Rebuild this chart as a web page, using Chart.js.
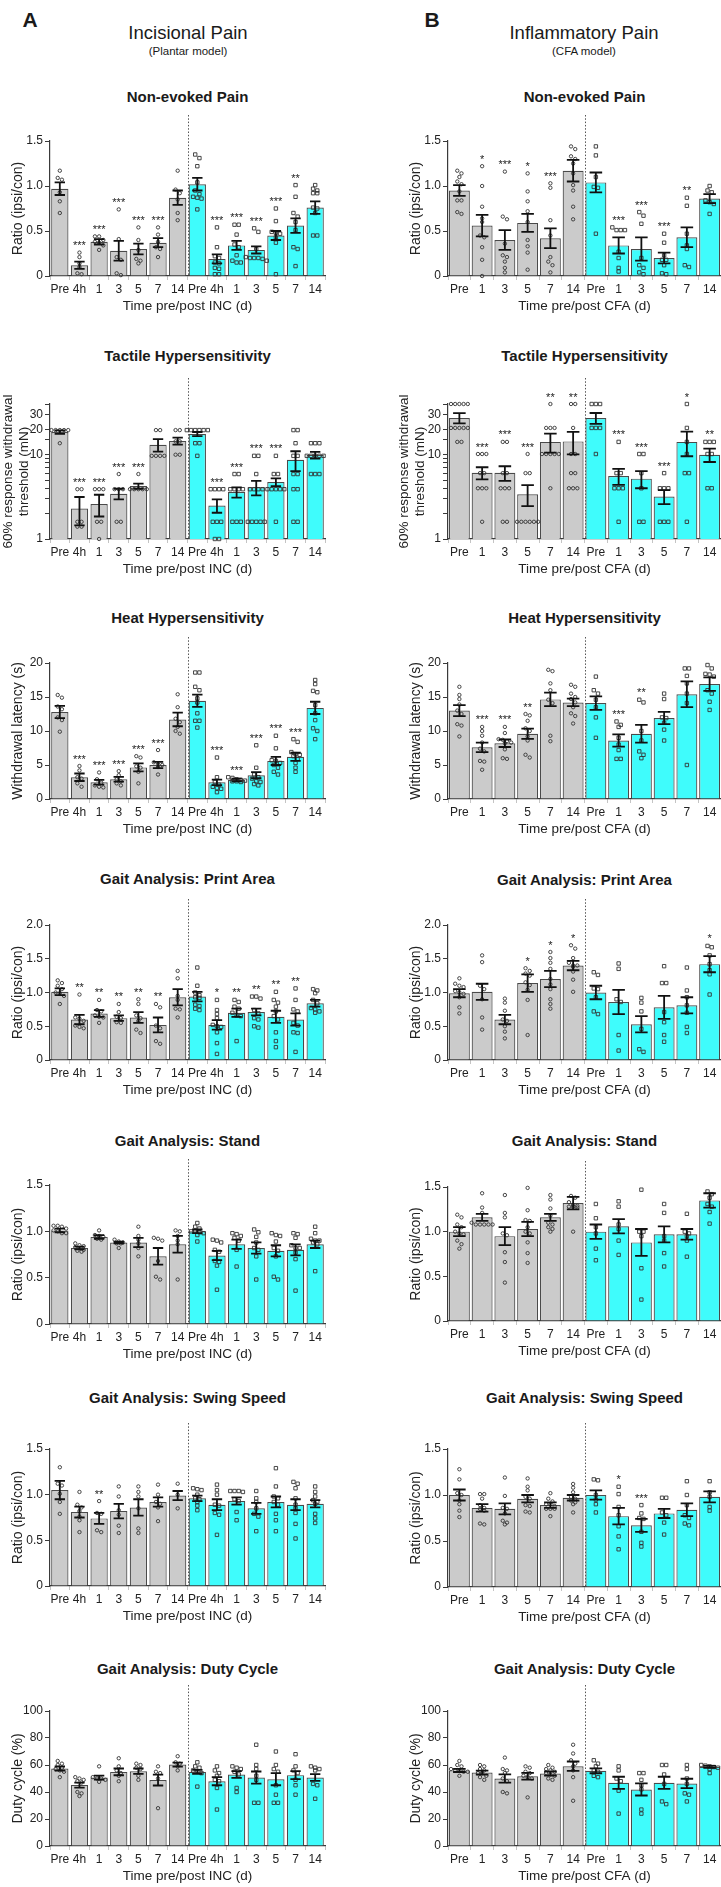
<!DOCTYPE html>
<html>
<head>
<meta charset="utf-8">
<script src="https://cdn.jsdelivr.net/npm/chart.js@4.4.1/dist/chart.umd.min.js"></script>
<style>
body { margin: 0; background: #fff; width: 721px; height: 1887px; position: relative; overflow: hidden; font-family: "Liberation Sans", Arial, sans-serif; color: #1a1a1a; }
.t { position: absolute; transform: translate(-50%, -50%); white-space: nowrap; }
.pt { font-size: 15px; font-weight: bold; }
canvas { position: absolute; }
</style>
</head>
<body>
<div class="t" style="left:30px;top:20px;font-size:21px;font-weight:bold">A</div>
<div class="t" style="left:188px;top:33px;font-size:18.5px">Incisional Pain</div>
<div class="t" style="left:188px;top:51px;font-size:11.5px">(Plantar model)</div>
<div class="t" style="left:432px;top:20px;font-size:21px;font-weight:bold">B</div>
<div class="t" style="left:584px;top:33px;font-size:18.5px">Inflammatory Pain</div>
<div class="t" style="left:584px;top:51px;font-size:11.5px">(CFA model)</div>
<script>
// categories
const incLabels = ["Pre", "4h", "1", "3", "5", "7", "14", "Pre", "4h", "1", "3", "5", "7", "14"];
const cfaLabels = ["Pre", "1", "3", "5", "7", "14", "Pre", "1", "3", "5", "7", "14"];

// y tick values
const ratioTicks = [0, 0.5, 1.0, 1.5];
const areaTicks = [0, 0.5, 1.0, 1.5, 2.0];
const heatTicks = [0, 5, 10, 15, 20];
const dutyTicks = [0, 20, 40, 60, 80, 100];
const tactTicks = [1, 10, 20, 30];

// Non-evoked pain
const incPainMean = [0.97, 0.12, 0.38, 0.28, 0.30, 0.37, 0.87, 1.02, 0.19, 0.34, 0.29, 0.45, 0.56, 0.76];
const incPainSem = [0.07, 0.04, 0.03, 0.11, 0.06, 0.05, 0.08, 0.07, 0.05, 0.05, 0.04, 0.05, 0.08, 0.07];
const incPainPts = [
	[1.17, 1.09, 1.07, 0.93, 0.83, 0.70],
	[0.26, 0.21, 0.14, 0.10, 0.03, 0.02],
	[0.44, 0.44, 0.40, 0.38, 0.37, 0.34, 0.29],
	[0.74, 0.41, 0.21, 0.18, 0.03, 0.01],
	[0.54, 0.40, 0.29, 0.19, 0.17, 0.14],
	[0.54, 0.46, 0.38, 0.32, 0.21, 0.30],
	[1.17, 0.96, 0.92, 0.85, 0.70, 0.62],
	[1.35, 1.31, 1.22, 1.04, 0.95, 0.91, 0.88, 0.87, 0.86, 0.74],
	[0.54, 0.32, 0.22, 0.20, 0.15, 0.14, 0.09, 0.08, 0.02, 0.02],
	[0.57, 0.57, 0.46, 0.35, 0.32, 0.23, 0.17, 0.15, 0.15],
	[0.53, 0.49, 0.30, 0.21, 0.20, 0.20, 0.20, 0.19, 0.17],
	[0.75, 0.61, 0.49, 0.48, 0.47, 0.43, 0.37, 0.02],
	[1.01, 0.88, 0.70, 0.66, 0.60, 0.51, 0.32, 0.30, 0.11],
	[1.01, 0.97, 0.95, 0.92, 0.92, 0.76, 0.75, 0.70, 0.45, 0.45]
];
const incPainStars = ["", "***", "***", "***", "***", "***", "", "", "***", "***", "***", "***", "**", ""];

const cfaPainMean = [0.95, 0.56, 0.40, 0.59, 0.42, 1.17, 1.04, 0.34, 0.30, 0.20, 0.43, 0.86];
const cfaPainSem = [0.06, 0.12, 0.11, 0.10, 0.11, 0.12, 0.11, 0.09, 0.13, 0.06, 0.11, 0.05];
const cfaPainPts = [
	[1.17, 1.14, 1.10, 1.05, 1.02, 0.94, 0.84, 0.84, 0.71, 0.69],
	[1.22, 1.00, 0.77, 0.64, 0.60, 0.45, 0.43, 0.32, 0.18, 0.0],
	[1.16, 0.66, 0.63, 0.36, 0.23, 0.21, 0.16, 0.09, 0.04],
	[1.14, 0.94, 0.83, 0.72, 0.60, 0.40, 0.33, 0.26, 0.07],
	[1.03, 0.98, 0.62, 0.45, 0.21, 0.16, 0.12, 0.04],
	[1.44, 1.41, 1.33, 1.30, 1.25, 1.14, 1.01, 0.95, 0.77, 0.63],
	[1.44, 1.34, 1.10, 0.99, 0.98, 0.47],
	[0.54, 0.51, 0.51, 0.51, 0.27, 0.20, 0.09, 0.05],
	[0.71, 0.67, 0.58, 0.20, 0.12, 0.09, 0.04, 0.02],
	[0.47, 0.37, 0.23, 0.18, 0.18, 0.12, 0.03, 0.02],
	[0.87, 0.78, 0.47, 0.34, 0.30, 0.12, 0.10],
	[1.00, 0.95, 0.93, 0.84, 0.82, 0.80, 0.69]
];
const cfaPainStars = ["", "*", "***", "*", "***", "", "", "***", "***", "***", "**", ""];

// Tactile hypersensitivity (mN, log axis)
const incTactMean = [18.6, 2.3, 2.6, 3.45, 4.25, 13.1, 14.6, 17.6, 2.5, 3.6, 4.1, 4.75, 8.7, 9.9];
const incTactSem = [0.9, 0.85, 0.75, 0.5, 0.3, 2.2, 1.4, 1.0, 0.45, 0.5, 0.8, 0.5, 2.3, 0.9];
const incTactPts = [
	[19.6, 19.6, 19.6, 19.6, 19.6, 13.7],
	[3.9, 3.9, 1.6, 1.6, 1.4, 1.4],
	[3.9, 3.9, 3.9, 1.6, 1.6, 1.0],
	[5.9, 3.9, 3.9, 3.9, 1.6, 1.6],
	[5.9, 3.9, 3.9, 3.9, 3.9, 3.9],
	[19.6, 19.6, 9.7, 9.7, 9.7, 9.7],
	[19.6, 19.6, 14.4, 14.4, 10, 10],
	[19.6, 19.6, 19.6, 19.6, 19.6, 19.6, 13.7, 13.7, 9.7],
	[3.9, 3.9, 3.9, 3.9, 1.6, 1.6, 1.6, 1.0, 1.0],
	[5.9, 5.9, 3.9, 3.9, 3.9, 3.9, 1.6, 1.6, 1.6],
	[9.7, 9.7, 5.9, 3.9, 3.9, 3.9, 3.9, 1.6, 1.6, 1.6, 1.6, 1.6],
	[9.7, 5.9, 5.9, 3.9, 3.9, 3.9, 3.9, 3.9, 1.6],
	[19.6, 19.6, 13.7, 9.7, 9.7, 5.9, 5.9, 3.9, 3.9, 1.6, 1.6],
	[13.7, 13.7, 13.7, 9.7, 9.7, 9.7, 9.7, 9.7, 5.9, 5.9, 5.9]
];
const incTactStars = ["", "***", "***", "***", "***", "", "", "", "***", "***", "***", "***", "", ""];

const cfaTactMean = [27.3, 6.1, 6.1, 3.4, 14.2, 14.4, 27.3, 5.6, 5.2, 3.2, 14.2, 10.0];
const cfaTactSem = [3.8, 1.0, 1.2, 0.95, 3.6, 4.3, 4.0, 1.2, 1.2, 0.6, 4.6, 1.8];
const cfaTactPts = [
	[40, 40, 40, 40, 40, 20.8, 20.8, 20.8, 20.8, 20.8, 14.2, 14.2],
	[10.2, 10.2, 10.2, 6.05, 6.05, 4, 4, 4, 1.6],
	[14.2, 14.2, 6.05, 6.05, 4, 4, 4, 1.6, 1.6],
	[10.2, 6.05, 6.05, 1.6, 1.6, 1.6, 1.6, 1.6, 1.6],
	[40, 20.8, 20.8, 20.8, 10.2, 10.2, 10.2, 10.2, 10.2, 4],
	[40, 40, 20.8, 10.2, 10.2, 6.05, 6.05, 4, 4, 4],
	[40, 40, 40, 20.8, 20.8, 20.8, 10.2],
	[14.2, 6.05, 6.05, 4, 4, 4, 1.6],
	[10.2, 10.2, 6.05, 4, 1.6, 1.6],
	[6.05, 4, 4, 4, 1.6, 1.6, 1.6],
	[40, 20.8, 14.2, 10.2, 6.05, 6.05, 1.6],
	[14.2, 14.2, 14.2, 10.2, 10.2, 4, 4]
];
const cfaTactStars = ["", "***", "***", "***", "**", "**", "", "***", "***", "***", "*", "**"];

// Heat hypersensitivity (s)
const incHeatMean = [12.8, 3.2, 2.45, 2.9, 4.65, 5.0, 11.7, 14.45, 2.45, 2.8, 3.5, 5.6, 6.2, 13.4];
const incHeatSem = [0.9, 0.55, 0.35, 0.35, 0.6, 0.45, 1.0, 0.9, 0.4, 0.2, 0.45, 0.6, 0.6, 0.9];
const incHeatPts = [
	[15.3, 14.9, 13.6, 13.2, 12.0, 11.6, 9.9],
	[4.85, 4.2, 3.2, 3.0, 2.3, 1.8],
	[3.9, 2.9, 2.4, 2.0, 1.8, 1.7],
	[4.1, 3.5, 2.9, 2.6, 2.3, 2.0],
	[6.3, 6.1, 4.8, 4.6, 4.0, 2.3],
	[7.2, 5.4, 5.1, 5.0, 4.7, 3.6],
	[15.4, 13.5, 11.8, 11.3, 10.6, 10.0, 9.6],
	[18.6, 18.6, 16.5, 16.0, 14.8, 14.2, 12.6, 11.5, 11.5, 10.5],
	[6.1, 3.2, 2.5, 2.1, 1.8, 1.6, 1.5, 1.0],
	[3.2, 3.1, 2.9, 2.8, 2.7, 2.6, 2.6, 2.5],
	[7.9, 4.6, 3.6, 3.2, 3.0, 2.6, 2.5, 2.2, 2.0],
	[9.3, 7.45, 5.7, 5.6, 5.3, 5.0, 4.6, 4.0, 3.6],
	[8.8, 8.4, 6.9, 6.6, 6.5, 6.3, 5.9, 5.3, 4.6, 4.0],
	[17.5, 16.9, 15.9, 15.7, 13.8, 12.6, 11.6, 10.4, 10.0, 8.8]
];
const incHeatStars = ["", "***", "***", "***", "***", "***", "", "", "***", "***", "***", "***", "***", ""];

const cfaHeatMean = [13.0, 7.6, 8.2, 9.6, 14.65, 14.2, 14.1, 8.6, 9.6, 11.9, 15.4, 16.9];
const cfaHeatSem = [0.8, 0.7, 0.55, 0.75, 1.0, 0.55, 1.0, 0.9, 1.3, 0.9, 1.9, 1.0];
const cfaHeatPts = [
	[16.5, 15.3, 14.7, 13.9, 13.0, 12.5, 11.0, 10.8, 9.2],
	[10.6, 10.0, 9.3, 8.3, 7.4, 7.0, 5.6, 5.5, 4.3],
	[10.6, 9.7, 8.8, 8.7, 8.5, 8.3, 8.2, 7.3, 6.0, 5.9],
	[12.5, 12.3, 11.5, 10.4, 10.0, 9.2, 8.6, 6.5, 6.1],
	[19.0, 18.8, 17.0, 16.0, 14.6, 14.1, 9.3, 8.5],
	[16.8, 16.5, 15.5, 15.0, 14.7, 14.2, 13.5, 12.6, 12.2, 11.1],
	[18.0, 16.0, 15.5, 14.6, 13.5, 12.0, 9.0],
	[11.4, 10.9, 10.6, 9.0, 8.0, 7.2, 5.9, 5.9],
	[14.6, 14.2, 10.0, 8.6, 7.0, 6.5, 6.0],
	[15.5, 14.7, 12.0, 11.9, 11.2, 10.2, 8.6],
	[19.2, 19.2, 18.1, 17.0, 15.5, 14.1, 5.0],
	[19.7, 19.2, 18.4, 18.3, 18.0, 16.0, 15.5, 14.3, 13.1]
];
const cfaHeatStars = ["", "***", "***", "**", "", "", "", "***", "**", "", "", ""];

// Gait: print area
const incAreaMean = [1.01, 0.60, 0.69, 0.62, 0.63, 0.52, 0.93, 0.94, 0.52, 0.70, 0.71, 0.64, 0.60, 0.84];
const incAreaSem = [0.05, 0.07, 0.05, 0.04, 0.08, 0.11, 0.12, 0.07, 0.07, 0.06, 0.05, 0.09, 0.09, 0.05];
const incAreaPts = [
	[1.18, 1.14, 1.10, 1.05, 1.0, 0.99, 0.95, 0.83],
	[0.97, 0.63, 0.61, 0.58, 0.51, 0.49, 0.47],
	[0.89, 0.74, 0.72, 0.66, 0.64, 0.63, 0.55],
	[0.83, 0.71, 0.64, 0.62, 0.56, 0.55],
	[0.90, 0.83, 0.66, 0.62, 0.58, 0.45, 0.40],
	[0.83, 0.78, 0.51, 0.47, 0.28, 0.24],
	[1.32, 1.21, 0.95, 0.89, 0.76, 0.75, 0.63],
	[1.37, 1.10, 1.0, 0.96, 0.93, 0.92, 0.82, 0.80, 0.76, 0.74],
	[0.89, 0.74, 0.68, 0.62, 0.52, 0.50, 0.49, 0.41, 0.25, 0.09],
	[0.89, 0.86, 0.79, 0.76, 0.70, 0.66, 0.65, 0.28],
	[0.94, 0.94, 0.91, 0.74, 0.69, 0.62, 0.60, 0.50, 0.48],
	[1.01, 0.89, 0.85, 0.79, 0.72, 0.65, 0.60, 0.41, 0.28, 0.19],
	[1.06, 0.89, 0.75, 0.72, 0.55, 0.51, 0.41, 0.40, 0.12],
	[1.05, 1.03, 0.99, 0.89, 0.84, 0.77, 0.75, 0.72, 0.70]
];
const incAreaStars = ["", "**", "**", "**", "**", "**", "", "", "*", "**", "**", "**", "**", ""];

const cfaAreaMean = [0.99, 1.01, 0.60, 1.14, 1.20, 1.40, 1.0, 0.86, 0.53, 0.78, 0.81, 1.42];
const cfaAreaSem = [0.06, 0.12, 0.07, 0.13, 0.12, 0.07, 0.1, 0.18, 0.12, 0.17, 0.12, 0.12];
const cfaAreaPts = [
	[1.21, 1.13, 1.10, 1.08, 1.02, 1.0, 0.98, 0.93, 0.78, 0.69],
	[1.55, 1.45, 1.10, 1.05, 0.90, 0.63, 0.45],
	[0.91, 0.85, 0.73, 0.60, 0.58, 0.50, 0.42, 0.32],
	[1.36, 1.32, 1.28, 1.25, 1.15, 1.11, 1.04, 0.89, 0.37],
	[1.60, 1.51, 1.44, 1.35, 1.20, 1.12, 1.05, 0.90, 0.83, 0.76],
	[1.70, 1.65, 1.51, 1.44, 1.40, 1.40, 1.38, 1.31, 1.19, 1.01],
	[1.30, 1.26, 1.06, 1.05, 0.93, 0.72, 0.68],
	[1.43, 1.35, 0.90, 0.86, 0.37, 0.14],
	[0.92, 0.85, 0.72, 0.46, 0.16, 0.12],
	[1.39, 1.14, 1.14, 0.71, 0.56, 0.37, 0.27],
	[1.37, 1.03, 0.93, 0.81, 0.70, 0.49, 0.40],
	[1.69, 1.67, 1.55, 1.42, 1.33, 1.27, 0.97]
];
const cfaAreaStars = ["", "", "", "*", "*", "*", "", "", "", "", "", "*"];

// Gait: stand
const incStandMean = [1.01, 0.82, 0.94, 0.88, 0.88, 0.73, 0.86, 1.0, 0.74, 0.86, 0.82, 0.79, 0.80, 0.86];
const incStandSem = [0.02, 0.015, 0.02, 0.01, 0.05, 0.09, 0.09, 0.02, 0.05, 0.05, 0.06, 0.06, 0.06, 0.04];
const incStandPts = [
	[1.06, 1.06, 1.05, 1.03, 1.01, 1.0, 0.98, 0.98],
	[0.87, 0.85, 0.84, 0.83, 0.82, 0.80, 0.79, 0.78],
	[1.01, 0.96, 0.95, 0.94, 0.92, 0.91],
	[0.91, 0.89, 0.88, 0.87, 0.87, 0.82],
	[1.05, 0.95, 0.91, 0.87, 0.82, 0.73],
	[0.93, 0.92, 0.90, 0.68, 0.51, 0.48],
	[1.01, 1.0, 0.95, 0.90, 0.86, 0.48],
	[1.09, 1.05, 1.03, 1.0, 1.0, 0.99, 0.98, 0.96, 0.89],
	[0.91, 0.90, 0.88, 0.80, 0.78, 0.68, 0.67, 0.63, 0.37],
	[0.98, 0.97, 0.95, 0.93, 0.90, 0.80, 0.62],
	[1.02, 0.99, 0.94, 0.88, 0.82, 0.80, 0.73, 0.48],
	[0.98, 0.96, 0.95, 0.89, 0.82, 0.79, 0.73, 0.51, 0.48],
	[0.98, 0.97, 0.93, 0.85, 0.82, 0.82, 0.77, 0.70, 0.36],
	[1.05, 0.98, 0.92, 0.90, 0.90, 0.88, 0.86, 0.57]
];
const incStandStars = [];

const cfaStandMean = [1.0, 1.16, 0.95, 1.03, 1.16, 1.32, 1.0, 1.06, 0.88, 0.97, 0.97, 1.35];
const cfaStandSem = [0.05, 0.04, 0.10, 0.08, 0.04, 0.07, 0.08, 0.08, 0.15, 0.09, 0.06, 0.08];
const cfaStandPts = [
	[1.19, 1.16, 1.08, 1.05, 1.0, 0.98, 0.97, 0.90, 0.86, 0.81],
	[1.43, 1.27, 1.21, 1.10, 1.08, 1.08, 1.08, 1.08, 1.08],
	[1.41, 1.21, 1.16, 0.98, 0.96, 0.77, 0.66, 0.43],
	[1.49, 1.24, 1.13, 1.12, 1.05, 1.0, 0.98, 0.88, 0.76, 0.65],
	[1.41, 1.36, 1.26, 1.18, 1.10, 1.08, 1.05, 1.03, 1.0],
	[1.40, 1.38, 1.33, 1.30, 1.29, 1.28, 1.28, 1.27, 1.0],
	[1.31, 1.15, 1.05, 0.98, 0.81, 0.68],
	[1.34, 1.28, 1.08, 1.03, 0.90, 0.74],
	[1.47, 1.0, 1.0, 0.95, 0.59, 0.24],
	[1.31, 1.21, 0.95, 0.90, 0.76, 0.61],
	[1.20, 1.0, 0.98, 0.95, 0.90, 0.72],
	[1.45, 1.42, 1.38, 1.31, 1.28, 1.22, 1.09]
];
const cfaStandStars = [];

// Gait: swing speed
const incSwingMean = [1.05, 0.81, 0.74, 0.82, 0.86, 0.92, 0.99, 0.96, 0.89, 0.93, 0.85, 0.92, 0.89, 0.90];
const incSwingSem = [0.1, 0.06, 0.06, 0.08, 0.09, 0.05, 0.05, 0.03, 0.06, 0.04, 0.06, 0.06, 0.06, 0.04];
const incSwingPts = [
	[1.30, 1.12, 1.10, 1.01, 0.92, 0.79],
	[1.03, 0.89, 0.86, 0.82, 0.76, 0.72, 0.59],
	[0.93, 0.80, 0.79, 0.61, 0.59],
	[1.09, 0.98, 0.83, 0.78, 0.66, 0.58],
	[1.09, 1.03, 0.98, 0.85, 0.63, 0.58],
	[1.11, 1.0, 0.92, 0.90, 0.86, 0.71],
	[1.12, 1.0, 0.85],
	[1.07, 1.06, 1.05, 1.0, 0.96, 0.95, 0.92, 0.88, 0.83],
	[1.11, 1.05, 1.0, 0.89, 0.88, 0.80, 0.78, 0.56],
	[1.04, 1.04, 1.04, 1.03, 0.95, 0.93, 0.81, 0.72],
	[1.04, 0.96, 0.92, 0.85, 0.79, 0.76, 0.60],
	[1.29, 1.09, 0.98, 0.96, 0.92, 0.89, 0.79, 0.72, 0.60],
	[1.14, 1.12, 1.07, 0.96, 0.89, 0.85, 0.80, 0.68, 0.52],
	[1.09, 1.03, 0.98, 0.94, 0.92, 0.90, 0.79, 0.74, 0.69]
];
const incSwingStars = ["", "", "**"];

const cfaSwingMean = [1.0, 0.86, 0.85, 0.96, 0.89, 0.97, 1.0, 0.77, 0.67, 0.80, 0.84, 0.98];
const cfaSwingSem = [0.06, 0.04, 0.06, 0.04, 0.03, 0.03, 0.05, 0.09, 0.07, 0.05, 0.07, 0.06];
const cfaSwingPts = [
	[1.28, 1.17, 1.02, 1.0, 0.94, 0.90, 0.83, 0.76],
	[1.01, 1.01, 0.96, 0.89, 0.86, 0.85, 0.83, 0.69, 0.68],
	[1.19, 0.99, 0.86, 0.85, 0.80, 0.72, 0.70, 0.68],
	[1.18, 1.09, 1.05, 0.98, 0.96, 0.89, 0.88, 0.82, 0.81],
	[1.02, 0.96, 0.93, 0.90, 0.90, 0.88, 0.85, 0.85, 0.85, 0.77],
	[1.12, 1.08, 1.03, 0.98, 0.96, 0.94, 0.92, 0.90, 0.81],
	[1.17, 1.16, 1.0, 0.95, 0.90, 0.81],
	[1.09, 1.01, 0.87, 0.78, 0.66, 0.55, 0.41],
	[0.89, 0.80, 0.75, 0.74, 0.60, 0.48, 0.44],
	[0.97, 0.97, 0.81, 0.78, 0.70, 0.57],
	[1.15, 1.0, 0.89, 0.78, 0.75, 0.69, 0.67],
	[1.15, 1.03, 0.98, 0.87, 0.83]
];
const cfaSwingStars = ["", "", "", "", "", "", "", "*", "***"];

// Gait: duty cycle (%)
const incDutyMean = [57.4, 45.1, 50.7, 54.9, 55.4, 48.8, 60.3, 54.9, 48.0, 53.0, 50.7, 49.5, 52.5, 50.7];
const incDutySem = [1.5, 1.8, 1.5, 2.5, 2.0, 4.0, 1.5, 1.5, 3.0, 2.5, 4.5, 4.5, 3.0, 2.5];
const incDutyPts = [
	[63, 61, 60, 58, 57, 56, 55, 51],
	[51, 50, 49, 48, 47, 40, 39, 37],
	[59, 51, 50, 50, 49, 47.5],
	[65, 59, 56, 54, 52, 48],
	[61, 60, 58, 57, 52, 49],
	[59, 55, 54, 50, 28],
	[66.5, 62, 61, 59, 56],
	[62, 59, 58, 56, 55, 54, 44],
	[59, 56, 54, 52, 49, 48, 43, 27],
	[59, 58, 57, 55, 53, 43, 40],
	[75, 60, 57, 52, 49, 32, 32],
	[70, 60, 57, 55, 45, 38, 32, 32],
	[68, 59, 56, 54, 49, 45, 38],
	[59, 58, 57, 56, 46, 45, 35]
];
const incDutyStars = [];

const cfaDutyMean = [56, 54.4, 50, 51.7, 53.7, 59.1, 55.7, 46.8, 41.9, 46.8, 46.3, 58.6];
const cfaDutySem = [1.2, 1.5, 3.0, 2.5, 1.5, 3.5, 1.8, 4.5, 4.5, 4.5, 3.5, 0.8];
const cfaDutyPts = [
	[63, 60, 59, 57, 56, 56, 55, 55, 52],
	[60, 59, 57, 56, 54, 54, 52, 51, 49],
	[65.5, 57, 56, 54, 50, 48, 40, 39],
	[59, 58, 55, 54, 52, 51, 50, 36],
	[60, 58, 57, 56, 55, 54, 53, 52, 50, 49],
	[75, 68.5, 63.5, 61, 59, 56, 51, 33.5],
	[63.5, 61, 59, 56, 55, 52, 51],
	[59, 56, 50, 48, 41, 24],
	[54, 54, 49, 45, 42, 27, 24],
	[60, 60, 53, 46, 33, 31],
	[60, 57, 50, 46, 39, 38, 33],
	[60, 59.5, 59, 58.5, 58, 57, 54]
];
const cfaDutyStars = [];

const FONT = '"Liberation Sans", Arial, sans-serif';
const GRAY = "#cbcbcb";
const CYAN = "#3ffcfc";
const EDGE = "#4a4a4a";
const AXIS = "#3a3a3a";
const INC_X = "Time pre/post INC (d)";
const CFA_X = "Time pre/post CFA (d)";
const RATIO_Y = "Ratio (ipsi/con)";
const TACT_Y = ["60% response withdrawal", "threshold (mN)"];

Chart.defaults.font.family = FONT;

const panels = [
	{ col: 0, title: "Non-evoked Pain", titleY: 96, top: 141, bottom: 276, labels: incLabels, mean: incPainMean, sem: incPainSem, pts: incPainPts, stars: incPainStars, ticks: ratioTicks, dec: 1, yTitle: RATIO_Y, xTitle: INC_X },
	{ col: 1, title: "Non-evoked Pain", titleY: 96, top: 141, bottom: 276, labels: cfaLabels, mean: cfaPainMean, sem: cfaPainSem, pts: cfaPainPts, stars: cfaPainStars, ticks: ratioTicks, dec: 1, yTitle: RATIO_Y, xTitle: CFA_X },
	{ col: 0, title: "Tactile Hypersensitivity", titleY: 355, top: 404, bottom: 539, labels: incLabels, mean: incTactMean, sem: incTactSem, pts: incTactPts, stars: incTactStars, log: true, yTitle: TACT_Y, xTitle: INC_X },
	{ col: 1, title: "Tactile Hypersensitivity", titleY: 355, top: 404, bottom: 539, labels: cfaLabels, mean: cfaTactMean, sem: cfaTactSem, pts: cfaTactPts, stars: cfaTactStars, log: true, yTitle: TACT_Y, xTitle: CFA_X },
	{ col: 0, title: "Heat Hypersensitivity", titleY: 617, top: 663, bottom: 799, labels: incLabels, mean: incHeatMean, sem: incHeatSem, pts: incHeatPts, stars: incHeatStars, ticks: heatTicks, dec: 0, yTitle: "Withdrawal latency (s)", xTitle: INC_X },
	{ col: 1, title: "Heat Hypersensitivity", titleY: 617, top: 663, bottom: 799, labels: cfaLabels, mean: cfaHeatMean, sem: cfaHeatSem, pts: cfaHeatPts, stars: cfaHeatStars, ticks: heatTicks, dec: 0, yTitle: "Withdrawal latency (s)", xTitle: CFA_X },
	{ col: 0, title: "Gait Analysis: Print Area", titleY: 878, top: 925, bottom: 1060, labels: incLabels, mean: incAreaMean, sem: incAreaSem, pts: incAreaPts, stars: incAreaStars, ticks: areaTicks, dec: 1, yTitle: RATIO_Y, xTitle: INC_X },
	{ col: 1, title: "Gait Analysis: Print Area", titleY: 879, top: 925, bottom: 1060, labels: cfaLabels, mean: cfaAreaMean, sem: cfaAreaSem, pts: cfaAreaPts, stars: cfaAreaStars, ticks: areaTicks, dec: 1, yTitle: RATIO_Y, xTitle: CFA_X },
	{ col: 0, title: "Gait Analysis: Stand", titleY: 1140, top: 1185, bottom: 1324, labels: incLabels, mean: incStandMean, sem: incStandSem, pts: incStandPts, stars: incStandStars, ticks: ratioTicks, dec: 1, yTitle: RATIO_Y, xTitle: INC_X },
	{ col: 1, title: "Gait Analysis: Stand", titleY: 1140, top: 1187, bottom: 1321, labels: cfaLabels, mean: cfaStandMean, sem: cfaStandSem, pts: cfaStandPts, stars: cfaStandStars, ticks: ratioTicks, dec: 1, yTitle: RATIO_Y, xTitle: CFA_X },
	{ col: 0, title: "Gait Analysis: Swing Speed", titleY: 1397, top: 1449, bottom: 1586, labels: incLabels, mean: incSwingMean, sem: incSwingSem, pts: incSwingPts, stars: incSwingStars, ticks: ratioTicks, dec: 1, yTitle: RATIO_Y, xTitle: INC_X },
	{ col: 1, title: "Gait Analysis: Swing Speed", titleY: 1397, top: 1449, bottom: 1587, labels: cfaLabels, mean: cfaSwingMean, sem: cfaSwingSem, pts: cfaSwingPts, stars: cfaSwingStars, ticks: ratioTicks, dec: 1, yTitle: RATIO_Y, xTitle: CFA_X },
	{ col: 0, title: "Gait Analysis: Duty Cycle", titleY: 1668, top: 1711, bottom: 1846, labels: incLabels, mean: incDutyMean, sem: incDutySem, pts: incDutyPts, stars: incDutyStars, ticks: dutyTicks, dec: 0, yTitle: "Duty cycle (%)", xTitle: INC_X },
	{ col: 1, title: "Gait Analysis: Duty Cycle", titleY: 1668, top: 1711, bottom: 1846, labels: cfaLabels, mean: cfaDutyMean, sem: cfaDutySem, pts: cfaDutyPts, stars: cfaDutyStars, ticks: dutyTicks, dec: 0, yTitle: "Duty cycle (%)", xTitle: CFA_X }
];

// draws the separator, the single animals, error bars and stars
const extras = {
	id: "extras",
	afterDatasetsDraw(chart, args, opts) {
		const p = opts.panel;
		const { ctx, chartArea } = chart;
		const x = chart.scales.x, y = chart.scales.y;
		const bars = chart.getDatasetMeta(0).data;
		const half = p.labels.length / 2;
		ctx.save();

		const sx = Math.round((x.getPixelForValue(half - 1) + x.getPixelForValue(half)) / 2) + 0.5;
		ctx.strokeStyle = "#555";
		ctx.lineWidth = 1;
		ctx.setLineDash([1.5, 1.8]);
		ctx.beginPath();
		ctx.moveTo(sx, chartArea.top - 26);
		ctx.lineTo(sx, chartArea.bottom);
		ctx.stroke();
		ctx.setLineDash([]);

		p.pts.forEach((vals, i) => {
			const cx = x.getPixelForValue(i);
			const square = i >= half;
			const ys = vals.map(v => y.getPixelForValue(v)).sort((a, b) => a - b);
			const rows = [];
			ys.forEach(py => {
				const r = rows[rows.length - 1];
				if (r && py - r[0] < 3.6) r.push(py);
				else rows.push([py]);
			});
			ctx.strokeStyle = "#333";
			ctx.lineWidth = 0.9;
			rows.forEach(r => r.forEach((py, k) => {
				const px = cx + (k - (r.length - 1) / 2) * 4.2;
				ctx.beginPath();
				if (square) ctx.rect(px - 1.7, py - 1.7, 3.4, 3.4);
				else ctx.arc(px, py, 1.7, 0, Math.PI * 2);
				ctx.stroke();
			}));

			const m = p.mean[i], s = p.sem[i];
			const yTop = y.getPixelForValue(m + s);
			const yBot = y.getPixelForValue(Math.max(m - s, p.log ? 1 : 0));
			const cap = bars[i].width * 0.3;
			ctx.strokeStyle = "#111";
			ctx.lineWidth = 1.8;
			ctx.beginPath();
			ctx.moveTo(cx, yTop); ctx.lineTo(cx, yBot);
			ctx.moveTo(cx - cap, yTop); ctx.lineTo(cx + cap, yTop);
			ctx.moveTo(cx - cap, yBot); ctx.lineTo(cx + cap, yBot);
			ctx.stroke();

			const star = p.stars[i];
			if (star) {
				const sy = Math.min(ys[0] - 3.5, yTop - 3);
				ctx.fillStyle = "#222";
				ctx.font = "11px " + FONT;
				ctx.textAlign = "center";
				ctx.textBaseline = "alphabetic";
				ctx.fillText(star, cx, sy);
			}
		});
		ctx.restore();
	}
};

panels.forEach(p => {
	const left = p.col ? 360 : 0;
	const width = p.col ? 361 : 360;
	const top = p.top - 30;
	const height = p.bottom - p.top + 72;
	const half = p.labels.length / 2;

	const head = document.createElement("div");
	head.className = "t pt";
	head.style.left = (p.col ? 584.5 : 187.5) + "px";
	head.style.top = p.titleY + "px";
	head.textContent = p.title;
	document.body.appendChild(head);

	const cv = document.createElement("canvas");
	cv.width = width;
	cv.height = height;
	cv.style.left = left + "px";
	cv.style.top = top + "px";
	document.body.appendChild(cv);

	const multi = Array.isArray(p.yTitle);
	const yScale = p.log ? {
		type: "logarithmic",
		min: 1,
		max: 40,
		ticks: { callback: v => tactTicks.includes(v) ? String(v) : "" }
	} : {
		type: "linear",
		min: p.ticks[0],
		max: p.ticks[p.ticks.length - 1],
		afterBuildTicks: s => { s.ticks = p.ticks.map(v => ({ value: v })); },
		ticks: { callback: v => v === 0 ? "0" : v.toFixed(p.dec) }
	};
	Object.assign(yScale, {
		z: 1,
		grid: { drawOnChartArea: false, drawTicks: true, tickLength: 5, color: AXIS, lineWidth: 1 },
		border: { color: AXIS, width: 1.2 },
		title: {
			display: true,
			text: p.yTitle,
			color: "#222",
			font: { size: multi ? 13.5 : 14, family: FONT },
			padding: { top: multi ? (p.col ? 36 : 0) : (p.col ? 48 : 10), bottom: 0 }
		},
		afterFit: s => { s.width = p.col ? 88 : 50; }
	});
	Object.assign(yScale.ticks, { autoSkip: false, padding: 2, color: "#222", font: { size: 12, family: FONT } });

	new Chart(cv, {
		type: "bar",
		data: {
			labels: p.labels,
			datasets: [{
				data: p.mean,
				backgroundColor: p.labels.map((l, i) => i < half ? GRAY : CYAN),
				borderColor: EDGE,
				borderWidth: 1.2,
				barPercentage: p.col ? 0.92 : 0.88,
				categoryPercentage: 1
			}]
		},
		options: {
			responsive: false,
			animation: false,
			devicePixelRatio: 1,
			layout: { padding: { top: 30, bottom: 2, left: 0, right: p.col ? 0 : 35 } },
			plugins: {
				legend: { display: false },
				tooltip: { enabled: false },
				extras: { panel: p }
			},
			scales: {
				x: {
					z: 1,
					grid: { drawOnChartArea: false, drawTicks: true, tickLength: 4, color: "#c4c4c4" },
					border: { color: AXIS, width: 1.2 },
					ticks: { autoSkip: false, maxRotation: 0, minRotation: 0, padding: 2, color: "#222", font: { size: 12, family: FONT } },
					title: { display: true, text: p.xTitle, color: "#222", font: { size: 13.5, family: FONT }, padding: { top: 0, bottom: 2 } },
					afterFit: s => { s.height = 40; }
				},
				y: yScale
			}
		},
		plugins: [extras]
	});
});
</script>
</body>
</html>
